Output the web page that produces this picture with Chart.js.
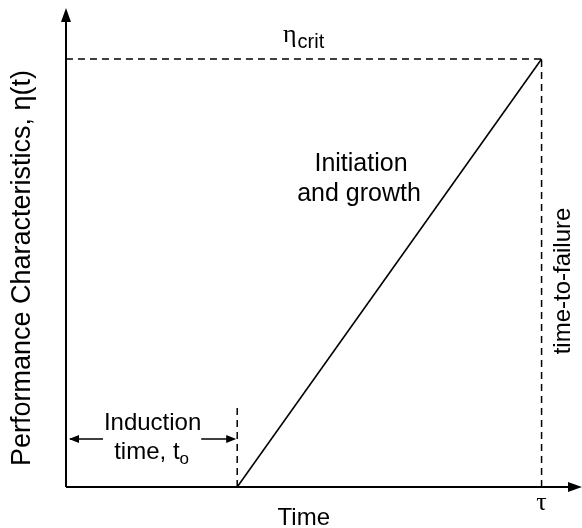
<!DOCTYPE html>
<html>
<head>
<meta charset="utf-8">
<script src="https://cdn.jsdelivr.net/npm/chart.js@4"></script>
<style>
  html, body { margin: 0; padding: 0; background: #fff; }
  #wrap { width: 582px; height: 528px; }
</style>
</head>
<body>
<div id="wrap"><canvas id="chart"></canvas></div>
<script>
// time axis: tau = 1, eta axis: eta_crit = 1
const growthTimes = [0.36, 1.0]      // induction time t0, time-to-failure tau
const growthValues = [0, 1.0]        // eta(t) at t0 and at tau
const etaCrit = 1.0
const inductionTime = 0.36
const failureTime = 1.0
const inductionMarkTop = 0.185
const xMax = 1.085
const yMax = 1.119

const FONT = "'Liberation Sans', Arial, sans-serif"
const SERIF = "'Liberation Serif', 'DejaVu Serif', serif"

const dashed = [7, 5]

function arrowHead(ctx, x, y, dir, len, half) {
  // dir: "up" | "right" | "left"
  ctx.beginPath()
  if (dir === "up") {
    ctx.moveTo(x, y)
    ctx.lineTo(x - half, y + len)
    ctx.lineTo(x + half, y + len)
  } else if (dir === "right") {
    ctx.moveTo(x, y)
    ctx.lineTo(x - len, y - half)
    ctx.lineTo(x - len, y + half)
  } else {
    ctx.moveTo(x, y)
    ctx.lineTo(x + len, y - half)
    ctx.lineTo(x + len, y + half)
  }
  ctx.closePath()
  ctx.fill()
}

const sketchPlugin = {
  id: "sketch",
  afterDraw(chart) {
    const ctx = chart.ctx
    const area = chart.chartArea
    const xs = chart.scales.x
    const ys = chart.scales.y
    const x0 = xs.getPixelForValue(0)
    const y0 = ys.getPixelForValue(0)

    ctx.save()
    ctx.fillStyle = "#000"
    ctx.strokeStyle = "#000"

    // axes with arrows
    ctx.lineWidth = 2
    ctx.beginPath()
    ctx.moveTo(x0, y0)
    ctx.lineTo(x0, area.top + 10)
    ctx.moveTo(x0, y0)
    ctx.lineTo(area.right - 10, y0)
    ctx.stroke()
    arrowHead(ctx, x0, area.top, "up", 14, 5)
    arrowHead(ctx, area.right, y0, "right", 14, 5)

    // induction arrows
    const ti = xs.getPixelForValue(inductionTime)
    const arrowY = y0 - 48
    ctx.lineWidth = 1.5
    ctx.beginPath()
    ctx.moveTo(x0 + 4, arrowY)
    ctx.lineTo(x0 + 37, arrowY)
    ctx.moveTo(ti - 36, arrowY)
    ctx.lineTo(ti - 3, arrowY)
    ctx.stroke()
    arrowHead(ctx, x0 + 3, arrowY, "left", 10, 4)
    arrowHead(ctx, ti - 1, arrowY, "right", 10, 4)

    // labels
    ctx.textAlign = "center"
    ctx.textBaseline = "alphabetic"
    ctx.font = "24px " + FONT

    const tau = xs.getPixelForValue(failureTime)
    ctx.fillText("Time", (x0 + tau) / 2, chart.height - 3)

    ctx.font = "25px " + FONT
    ctx.fillText("Initiation", 361, 171)
    ctx.fillText("and growth", 359, 201)

    ctx.font = "24px " + FONT
    ctx.fillText("Induction", (x0 + ti) / 2 + 1, 430)
    ctx.textAlign = "left"
    const tLabel = "time, t"
    ctx.font = "24px " + FONT
    const w1 = ctx.measureText(tLabel).width
    ctx.font = "17px " + FONT
    const w2 = ctx.measureText("o").width
    let sx = (x0 + ti) / 2 - (w1 + w2) / 2
    ctx.font = "24px " + FONT
    ctx.fillText(tLabel, sx, 459)
    ctx.font = "17px " + FONT
    ctx.fillText("o", sx + w1, 464)

    // eta_crit
    const ec = ys.getPixelForValue(etaCrit)
    ctx.font = "26px " + SERIF
    ctx.fillText("\u03b7", 283, ec - 17)
    const we = ctx.measureText("\u03b7").width
    ctx.font = "20px " + FONT
    ctx.fillText("crit", 283 + we + 1, ec - 11)

    // tau
    ctx.textAlign = "center"
    ctx.font = "26px " + SERIF
    ctx.fillText("\u03c4", tau, y0 + 23)

    // rotated labels
    ctx.textBaseline = "middle"
    ctx.save()
    ctx.translate(tau + 22, 281)
    ctx.rotate(-Math.PI / 2)
    ctx.font = "24px " + FONT
    ctx.fillText("time-to-failure", 0, 0)
    ctx.restore()

    ctx.save()
    ctx.translate(23, 268)
    ctx.rotate(-Math.PI / 2)
    ctx.font = "27px " + FONT
    ctx.fillText("Performance Characteristics, \u03b7(t)", 0, 0)
    ctx.restore()

    ctx.restore()
  }
}

new Chart(document.getElementById("chart"), {
  type: "scatter",
  data: {
    datasets: [
      {
        label: "Initiation and growth",
        data: growthTimes.map((t, i) => ({ x: t, y: growthValues[i] })),
        showLine: true,
        borderColor: "#000",
        borderWidth: 1.6,
        pointRadius: 0
      },
      {
        label: "eta crit",
        data: [{ x: 0, y: etaCrit }, { x: failureTime, y: etaCrit }],
        showLine: true,
        borderColor: "#000",
        borderWidth: 1.5,
        borderDash: dashed,
        pointRadius: 0
      },
      {
        label: "time-to-failure",
        data: [{ x: failureTime, y: 0 }, { x: failureTime, y: etaCrit }],
        showLine: true,
        borderColor: "#000",
        borderWidth: 1.5,
        borderDash: dashed,
        pointRadius: 0
      },
      {
        label: "induction",
        data: [{ x: inductionTime, y: 0 }, { x: inductionTime, y: inductionMarkTop }],
        showLine: true,
        borderColor: "#000",
        borderWidth: 1.5,
        borderDash: dashed,
        pointRadius: 0
      }
    ]
  },
  options: {
    responsive: true,
    maintainAspectRatio: false,
    animation: false,
    layout: {
      padding: { left: 66, right: 0, top: 8, bottom: 41 }
    },
    scales: {
      x: { type: "linear", min: 0, max: xMax, display: false },
      y: { type: "linear", min: 0, max: yMax, display: false }
    },
    plugins: {
      legend: { display: false },
      tooltip: { enabled: false }
    }
  },
  plugins: [sketchPlugin]
})
</script>
</body>
</html>
